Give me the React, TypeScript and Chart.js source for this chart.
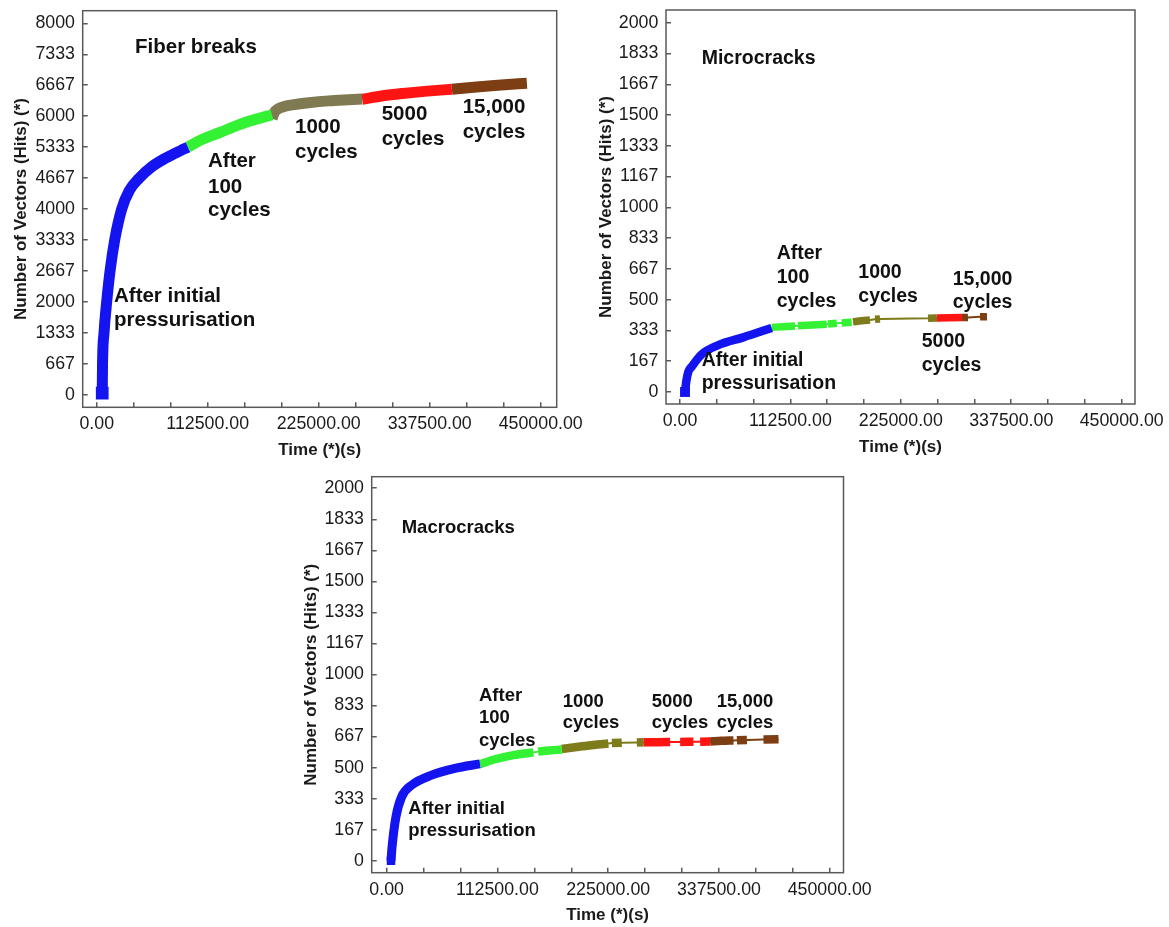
import React, { useEffect, useRef } from 'react';
import { Chart, registerables } from 'chart.js';
Chart.register(...registerables);

const FONT = '"Liberation Sans", Arial, Helvetica, sans-serif';
const TXT = '#1a1a1a';
const AXIS = '#5a5a5a';

// ---- tick values ----
const timeTicks = [0, 37500, 75000, 112500, 150000, 187500, 225000, 262500, 300000, 337500, 375000, 412500, 450000];
const timeLabelStep = 112500;
const fiberYTicks = [0, 666.67, 1333.33, 2000, 2666.67, 3333.33, 4000, 4666.67, 5333.33, 6000, 6666.67, 7333.33, 8000];
const crackYTicks = [0, 166.67, 333.33, 500, 666.67, 833.33, 1000, 1166.67, 1333.33, 1500, 1666.67, 1833.33, 2000];

// ---- Fiber breaks ----
const fiberBlueT = [5600, 5900, 7400, 10100, 13500, 18200, 25300, 33000, 43000, 55000, 70000, 85000, 92500];
const fiberBlueN = [40, 667, 1333, 2000, 2667, 3333, 4000, 4400, 4667, 4900, 5100, 5260, 5333];
const fiberGreenT = [92500, 104800, 125000, 140000, 155000, 170000, 177700];
const fiberGreenN = [5333, 5480, 5650, 5780, 5895, 5985, 6030];
const fiberOliveT = [177700, 180000, 184000, 190000, 200000, 215000, 235000, 255000, 269000];
const fiberOliveN = [5950, 6080, 6160, 6210, 6250, 6290, 6330, 6355, 6370];
const fiberRedT = [269000, 290000, 310000, 335000, 360000];
const fiberRedN = [6365, 6440, 6490, 6540, 6580];
const fiberBrownT = [360000, 385000, 410000, 436000];
const fiberBrownN = [6580, 6630, 6670, 6710];

// ---- Microcracks (null = gap between blocks) ----
const microBlueT = [5100, 6500, 8500, 11900, 22100, 39000, 64500, 93400];
const microBlueN = [0, 60, 110, 137, 204, 254, 296, 347];
const microGreenT = [93400, 105000, 117200, 118700, 120200, 135000, 149500, 150150, 150800, 159700, 162200, 164700, 174900];
const microGreenN = [350, 354, 358, null, 359, 363, 367, null, 368, 372, null, 374, 378];
const microOliveT = [176300, 185000, 193600, 196000, 198700, 203800, 228000, 252700, 261800];
const microOliveN = [380, 386, 390, null, 394, 396, null, 399, 401];
const microRedT = [261800, 287300];
const microRedN = [401, 403];
const microBrownT = [287300, 293400, 299500, 305700, 312800];
const microBrownN = [403, 404, null, 407, 408];

// ---- Macrocracks ----
const macroBlueT = [4400, 5500, 9450, 15200, 25400, 45700, 69400, 94800];
const macroBlueN = [0, 75, 236, 343, 406, 460, 496, 520];
const macroGreenT = [94800, 110000, 128700, 149000, 151400, 153800, 165000, 177800];
const macroGreenN = [519, 545, 567, 582, null, 586, 592, 597];
const macroOliveT = [177800, 195000, 210000, 225200, 227000, 228700, 238800, 246500, 254100, 260800];
const macroOliveN = [600, 612, 622, 630, null, 632, 634, null, 635, 636];
const macroRedT = [260800, 275000, 287900, 293000, 298100, 311600, 315000, 318400, 328600];
const macroRedN = [636, 637, 638, null, 638, 639, null, 639, 640];
const macroBrownT = [328600, 340000, 352300, 354000, 355700, 365900, 374300, 382700, 398000];
const macroBrownN = [641, 644, 646, null, 647, 649, null, 651, 653];

const BLUE = '#1414f0';
const GREEN = '#33f233';
const OLIVE_GREY = '#7f7a52';
const OLIVE = '#7e7b1a';
const RED = '#ff1414';
const BROWN = '#7c3e12';

type Note = { text: string; x: number; y: number };

function segment(t: number[], n: (number | null)[], color: string, width: number, thin: number, blob = 0) {
  const pts = t.map((v, i) => ({ x: v, y: n[i] }));
  const out: any[] = [
    {
      data: pts,
      borderColor: color,
      backgroundColor: color,
      borderWidth: width,
      pointRadius: (c: any) => (blob && c.dataIndex === 0 ? blob : 0),
      pointStyle: 'rect',
      pointBorderWidth: 0,
      pointBackgroundColor: color,
      spanGaps: false,
      cubicInterpolationMode: 'monotone',
      borderCapStyle: 'butt',
      borderJoinStyle: 'round',
      order: 1,
    },
  ];
  if (thin) {
    out.push({
      data: pts.filter((p) => p.y !== null),
      borderColor: color,
      borderWidth: thin,
      pointRadius: 0,
      order: 2,
    });
  }
  return out;
}

type Spec = {
  w: number;
  h: number;
  area: { left: number; top: number; right: number; bottom: number };
  xMin: number;
  xMax: number;
  yMin: number;
  yMax: number;
  yTicks: number[];
  datasets: any[];
  notes: Note[];
  noteSize: number;
};

function makeConfig(s: Spec): any {
  const framePlugin = {
    id: 'frame',
    afterDraw(chart: any) {
      const { left, top, right, bottom } = chart.chartArea;
      const ctx = chart.ctx;
      ctx.save();
      ctx.strokeStyle = AXIS;
      ctx.lineWidth = 1.5;
      ctx.strokeRect(left, top, right - left, bottom - top);
      ctx.restore();
    },
  };
  const notesPlugin = {
    id: 'notes',
    afterDraw(chart: any) {
      const ctx = chart.ctx;
      ctx.save();
      ctx.fillStyle = '#111';
      ctx.font = `bold ${s.noteSize}px ${FONT}`;
      ctx.textBaseline = 'alphabetic';
      ctx.textAlign = 'left';
      s.notes.forEach((nt) => ctx.fillText(nt.text, nt.x, nt.y));
      ctx.restore();
    },
  };
  const xAxisH = s.h - s.area.bottom;
  return {
    type: 'line',
    data: { datasets: s.datasets },
    options: {
      animation: false,
      responsive: false,
      events: [],
      layout: { padding: { left: 0, top: s.area.top, right: s.w - s.area.right, bottom: 0 } },
      plugins: { legend: { display: false }, tooltip: { enabled: false } },
      scales: {
        x: {
          type: 'linear',
          min: s.xMin,
          max: s.xMax,
          afterBuildTicks: (sc: any) => {
            sc.ticks = timeTicks.map((v) => ({ value: v }));
          },
          afterFit: (sc: any) => {
            sc.height = xAxisH;
            sc.paddingLeft = 0;
            sc.paddingRight = 0;
          },
          border: { display: false },
          grid: { drawOnChartArea: false, drawTicks: true, tickLength: -5, color: AXIS, lineWidth: 1.5 },
          ticks: {
            autoSkip: false,
            maxRotation: 0,
            minRotation: 0,
            padding: 11.5,
            color: TXT,
            font: { family: FONT, size: 17.8 },
            callback: (v: number) => (v % timeLabelStep === 0 ? v.toFixed(2) : ''),
          },
          title: {
            display: true,
            text: 'Time (*)(s)',
            color: TXT,
            font: { family: FONT, size: 17, weight: 'bold' },
            padding: { top: 0, bottom: xAxisH - 43 - 10.2 },
          },
        },
        y: {
          type: 'linear',
          min: s.yMin,
          max: s.yMax,
          afterBuildTicks: (sc: any) => {
            sc.ticks = s.yTicks.map((v) => ({ value: v }));
          },
          afterFit: (sc: any) => {
            sc.width = s.area.left;
            sc.paddingTop = 0;
            sc.paddingBottom = 0;
          },
          border: { display: false },
          grid: { drawOnChartArea: false, drawTicks: true, tickLength: -5, color: AXIS, lineWidth: 1.5 },
          ticks: {
            autoSkip: false,
            padding: 12.7,
            color: TXT,
            font: { family: FONT, size: 17.8 },
            callback: (v: number) => String(Math.round(v)),
          },
          title: {
            display: true,
            text: 'Number of Vectors (Hits) (*)',
            color: TXT,
            font: { family: FONT, size: 17, weight: 'bold' },
            padding: { top: 10.8, bottom: 0 },
          },
        },
      },
    },
    plugins: [framePlugin, notesPlugin],
  };
}

function fiberSpec(): Spec {
  return {
    w: 584,
    h: 465,
    area: { left: 82.7, top: 10.7, right: 556.7, bottom: 407.3 },
    xMin: -14200,
    xMax: 466200,
    yMin: -265,
    yMax: 8271,
    yTicks: fiberYTicks,
    noteSize: 20.5,
    datasets: [
      ...segment(fiberBlueT, fiberBlueN, BLUE, 11, 0, 9),
      ...segment(fiberGreenT, fiberGreenN, GREEN, 11, 0),
      ...segment(fiberOliveT, fiberOliveN, OLIVE_GREY, 11, 0),
      ...segment(fiberRedT, fiberRedN, RED, 11, 0),
      ...segment(fiberBrownT, fiberBrownN, BROWN, 11, 0),
    ],
    notes: [
      { text: 'Fiber breaks', x: 135, y: 53.3 },
      { text: 'After', x: 208, y: 166.7 },
      { text: '100', x: 208, y: 192.7 },
      { text: 'cycles', x: 208, y: 216 },
      { text: 'After initial', x: 114, y: 301.7 },
      { text: 'pressurisation', x: 114, y: 326 },
      { text: '1000', x: 295, y: 133.3 },
      { text: 'cycles', x: 295, y: 157.5 },
      { text: '5000', x: 381.7, y: 120 },
      { text: 'cycles', x: 381.7, y: 144.5 },
      { text: '15,000', x: 462.7, y: 113.3 },
      { text: 'cycles', x: 462.7, y: 137.5 },
    ],
  };
}

function microSpec(): Spec {
  return {
    w: 584,
    h: 465,
    area: { left: 81, top: 10, right: 550, bottom: 404 },
    xMin: -14260,
    xMax: 463600,
    yMin: -65,
    yMax: 2069,
    yTicks: crackYTicks,
    noteSize: 19.5,
    datasets: [
      ...segment(microBlueT, microBlueN, BLUE, 8.5, 0, 7),
      ...segment(microGreenT, microGreenN, GREEN, 7.5, 2),
      ...segment(microOliveT, microOliveN, OLIVE, 7.5, 2),
      ...segment(microRedT, microRedN, RED, 7.5, 2),
      ...segment(microBrownT, microBrownN, BROWN, 7.5, 2),
    ],
    notes: [
      { text: 'Microcracks', x: 116.7, y: 64 },
      { text: 'After', x: 191.7, y: 259.3 },
      { text: '100', x: 191.7, y: 283.3 },
      { text: 'cycles', x: 191.7, y: 306.5 },
      { text: 'After initial', x: 116.7, y: 366 },
      { text: 'pressurisation', x: 116.7, y: 389.3 },
      { text: '1000', x: 273.3, y: 278.3 },
      { text: 'cycles', x: 273.3, y: 301.7 },
      { text: '5000', x: 336.7, y: 346.7 },
      { text: 'cycles', x: 336.7, y: 370.7 },
      { text: '15,000', x: 367.7, y: 285 },
      { text: 'cycles', x: 367.7, y: 308.3 },
    ],
  };
}

function macroSpec(): Spec {
  return {
    w: 584,
    h: 457,
    area: { left: 81.7, top: 6.7, right: 553.5, bottom: 402.7 },
    xMin: -15200,
    xMax: 464000,
    yMin: -64,
    yMax: 2062,
    yTicks: crackYTicks,
    noteSize: 18.5,
    datasets: [
      ...segment(macroBlueT, macroBlueN, BLUE, 9, 0, 6),
      ...segment(macroGreenT, macroGreenN, GREEN, 8.5, 2),
      ...segment(macroOliveT, macroOliveN, OLIVE, 8.5, 2),
      ...segment(macroRedT, macroRedN, RED, 8.5, 2),
      ...segment(macroBrownT, macroBrownN, BROWN, 8.5, 2),
    ],
    notes: [
      { text: 'Macrocracks', x: 111.7, y: 63.3 },
      { text: 'After', x: 189, y: 230.7 },
      { text: '100', x: 189, y: 253.3 },
      { text: 'cycles', x: 189, y: 276 },
      { text: 'After initial', x: 118.3, y: 344 },
      { text: 'pressurisation', x: 118.3, y: 366 },
      { text: '1000', x: 272.7, y: 236.7 },
      { text: 'cycles', x: 272.7, y: 258.3 },
      { text: '5000', x: 361.7, y: 236.7 },
      { text: 'cycles', x: 361.7, y: 258.3 },
      { text: '15,000', x: 426.7, y: 236.7 },
      { text: 'cycles', x: 426.7, y: 258.3 },
    ],
  };
}

function ChartBox({ spec, left, top }: { spec: () => Spec; left: number; top: number }) {
  const ref = useRef<HTMLCanvasElement>(null);
  const s = spec();
  useEffect(() => {
    const chart = new Chart(ref.current as HTMLCanvasElement, makeConfig(spec()));
    return () => chart.destroy();
  }, []);
  return (
    <canvas
      ref={ref}
      width={s.w}
      height={s.h}
      style={{ position: 'absolute', left, top, width: s.w, height: s.h, display: 'block' }}
    />
  );
}

export default function App() {
  return (
    <div style={{ position: 'absolute', left: 0, top: 0, width: 1169, height: 927, background: '#fff', overflow: 'hidden' }}>
      <ChartBox spec={fiberSpec} left={0} top={0} />
      <ChartBox spec={microSpec} left={585} top={0} />
      <ChartBox spec={macroSpec} left={290} top={470} />
    </div>
  );
}
